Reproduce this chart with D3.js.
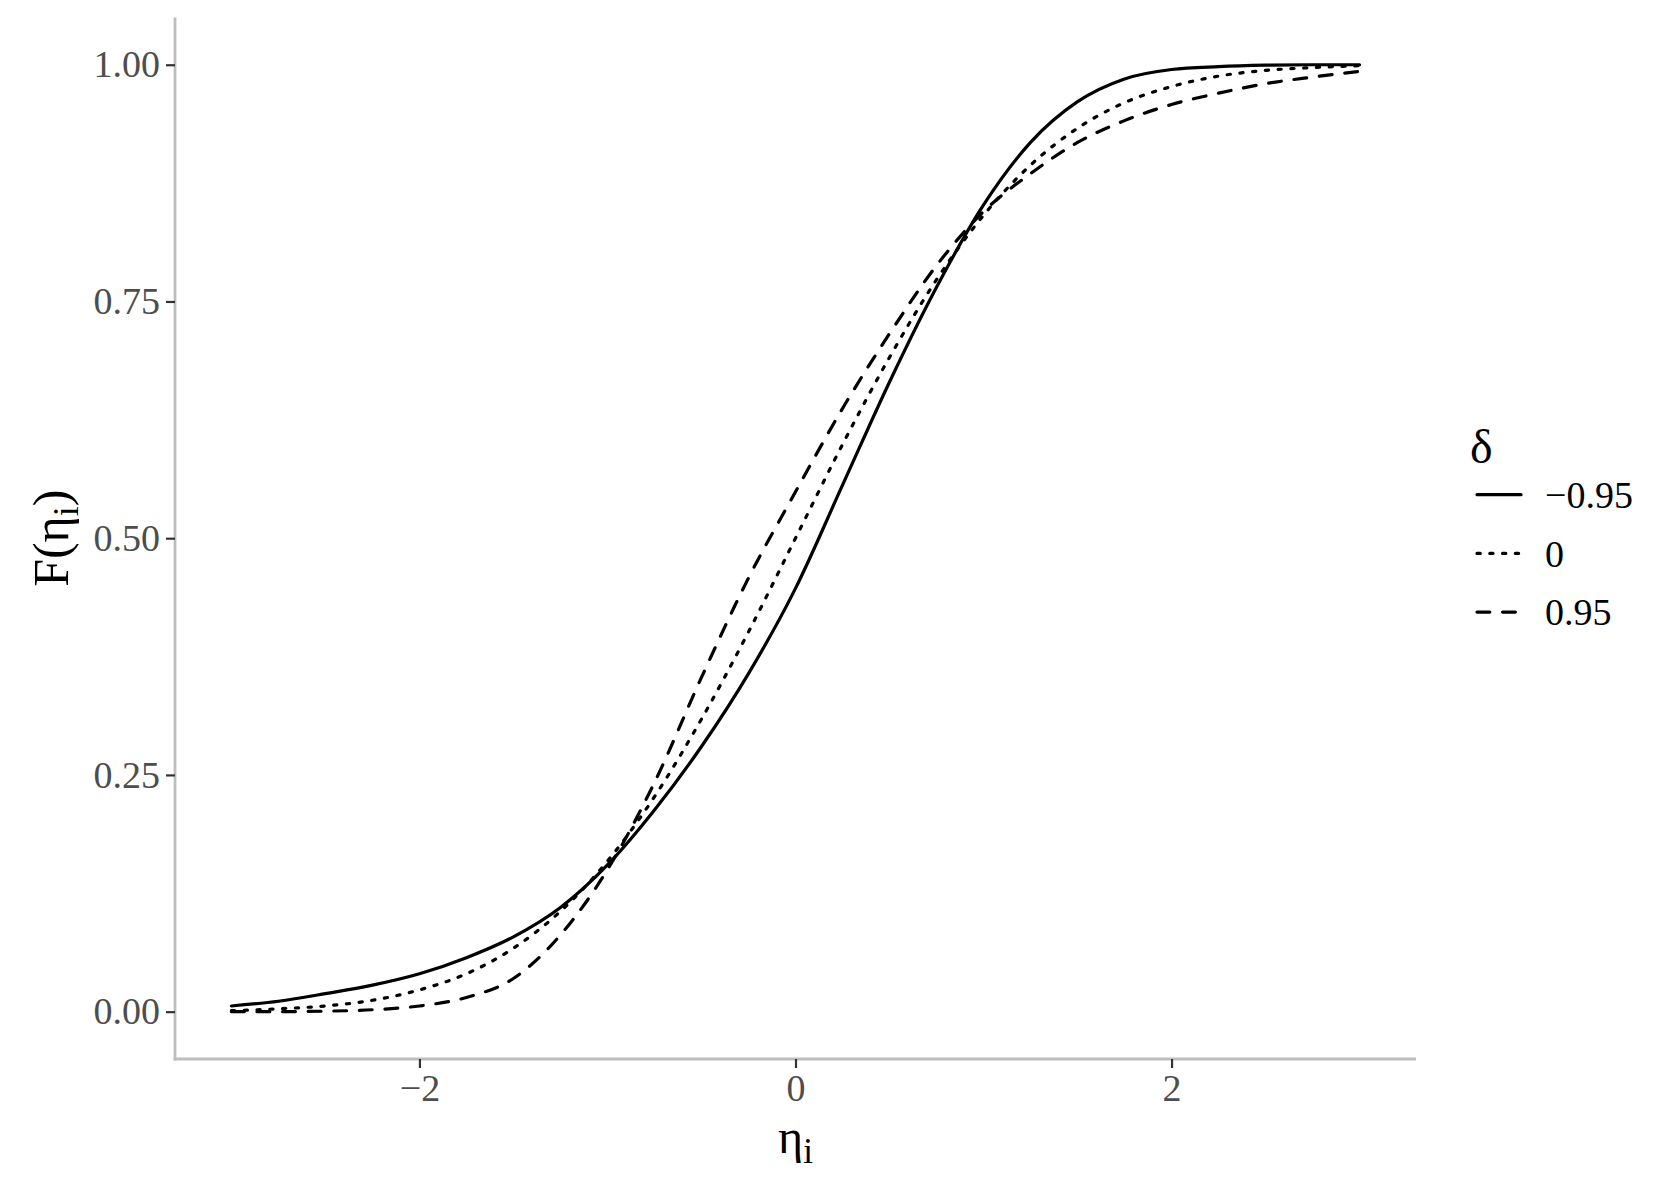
<!DOCTYPE html>
<html>
<head>
<meta charset="utf-8">
<script src="https://cdn.jsdelivr.net/npm/d3@7"></script>
<style>
  body { margin: 0; background: #fff; }
  svg text { font-family: "Liberation Serif", "DejaVu Serif", serif; }
</style>
</head>
<body>
<svg id="chart" width="1661" height="1186"></svg>
<script>
// eta grid and curve values
var eta = [-3, -2.75, -2.5, -2.25, -2, -1.75, -1.5, -1.25, -1, -0.75, -0.5, -0.25,
           0, 0.25, 0.5, 0.75, 1, 1.25, 1.5, 1.75, 2, 2.25, 2.5, 2.75, 3];

var fNeg095 = [0.006, 0.011, 0.019, 0.028, 0.040, 0.057, 0.079, 0.110, 0.155, 0.213, 0.280, 0.357,
               0.447, 0.556, 0.665, 0.765, 0.852, 0.918, 0.961, 0.985, 0.995, 0.998, 0.9995, 1.0, 1.0];

var fZero = [0.001, 0.003, 0.006, 0.012, 0.023, 0.040, 0.067, 0.106, 0.159, 0.227, 0.309, 0.401,
             0.500, 0.599, 0.691, 0.773, 0.841, 0.894, 0.933, 0.960, 0.977, 0.988, 0.994, 0.997, 0.999];

var fPos095 = [0.000, 0.000, 0.0005, 0.002, 0.006, 0.015, 0.035, 0.081, 0.150, 0.242, 0.353, 0.458,
               0.549, 0.637, 0.716, 0.788, 0.845, 0.885, 0.918, 0.941, 0.958, 0.970, 0.980, 0.987, 0.993];

var deltaLabels = ["\u22120.95", "0", "0.95"];
var yTicks = [0, 0.25, 0.5, 0.75, 1];
var xTicks = [-2, 0, 2];

var lw = 3.2;
var series = [
  { label: deltaLabels[0], values: fNeg095, dash: null },
  { label: deltaLabels[1], values: fZero, dash: lw + "," + (3 * lw) },
  { label: deltaLabels[2], values: fPos095, dash: (4 * lw) + "," + (4 * lw) }
];

var svg = d3.select("#chart");

var panel = { left: 175, right: 1416, top: 17.4, bottom: 1059 };

var x = d3.scaleLinear().domain([-3.3, 3.3]).range([panel.left, panel.right]);
var y = d3.scaleLinear().domain([-0.05, 1.05]).range([panel.bottom, panel.top]);

//-------------------------------
// axes

var xAxis = svg.append("g")
  .attr("transform", "translate(0," + panel.bottom + ")")
  .call(d3.axisBottom(x).tickValues(xTicks).tickSize(9).tickPadding(6)
    .tickFormat(function(d) { return d < 0 ? "\u2212" + Math.abs(d) : d; }));

var yAxis = svg.append("g")
  .attr("transform", "translate(" + panel.left + ",0)")
  .call(d3.axisLeft(y).tickValues(yTicks).tickSize(9).tickPadding(6).tickFormat(d3.format(".2f")));

[xAxis, yAxis].forEach(function(g) {
  g.select(".domain").attr("stroke", "#bebebe").attr("stroke-width", 2.8);
  g.selectAll(".tick line").attr("stroke", "#333333").attr("stroke-width", 2.2);
  g.selectAll(".tick text")
    .attr("fill", "#4d4d4d")
    .style("font-size", "38px")
    .style("font-family", "'Liberation Serif', serif");
});

// axis lines run along the full panel
xAxis.select(".domain").attr("d", "M" + (panel.left - 1.4) + ",0H" + panel.right);
yAxis.select(".domain").attr("d", "M0," + panel.top + "V" + (panel.bottom + 1.4));

//-------------------------------
// curves

var line = d3.line()
  .x(function(d, i) { return x(eta[i]); })
  .y(function(d) { return y(d); })
  .curve(d3.curveMonotoneX);

series.forEach(function(s) {
  svg.append("path")
    .datum(s.values)
    .attr("d", line)
    .attr("fill", "none")
    .attr("stroke", "#000")
    .attr("stroke-width", lw)
    .attr("stroke-linecap", "round")
    .attr("stroke-dasharray", s.dash);
});

//-------------------------------
// axis titles

var xt = svg.append("text")
  .attr("x", x(0))
  .attr("y", 1153)
  .attr("text-anchor", "middle")
  .style("font-size", "48px");
xt.append("tspan").text("\u03b7");
xt.append("tspan").attr("dy", 10).style("font-size", "35px").text("i");

var yt = svg.append("text")
  .attr("transform", "translate(68," + ((panel.top + panel.bottom) / 2) + ") rotate(-90)")
  .attr("text-anchor", "middle")
  .style("font-size", "50px");
yt.append("tspan").text("F(\u03b7");
yt.append("tspan").attr("dy", 10).style("font-size", "36px").text("i");
yt.append("tspan").attr("dy", -10).text(")");

//-------------------------------
// legend

var legend = svg.append("g");

legend.append("text")
  .attr("x", 1470)
  .attr("y", 463)
  .style("font-size", "48px")
  .text("\u03b4");

series.forEach(function(s, i) {
  var ly = 494.7 + i * 58.7;
  legend.append("line")
    .attr("x1", 1477).attr("x2", 1521)
    .attr("y1", ly).attr("y2", ly)
    .attr("stroke", "#000")
    .attr("stroke-width", lw)
    .attr("stroke-linecap", "round")
    .attr("stroke-dasharray", s.dash);
  legend.append("text")
    .attr("x", 1545)
    .attr("y", ly)
    .attr("dy", "0.35em")
    .style("font-size", "38px")
    .text(s.label);
});
</script>
</body>
</html>
